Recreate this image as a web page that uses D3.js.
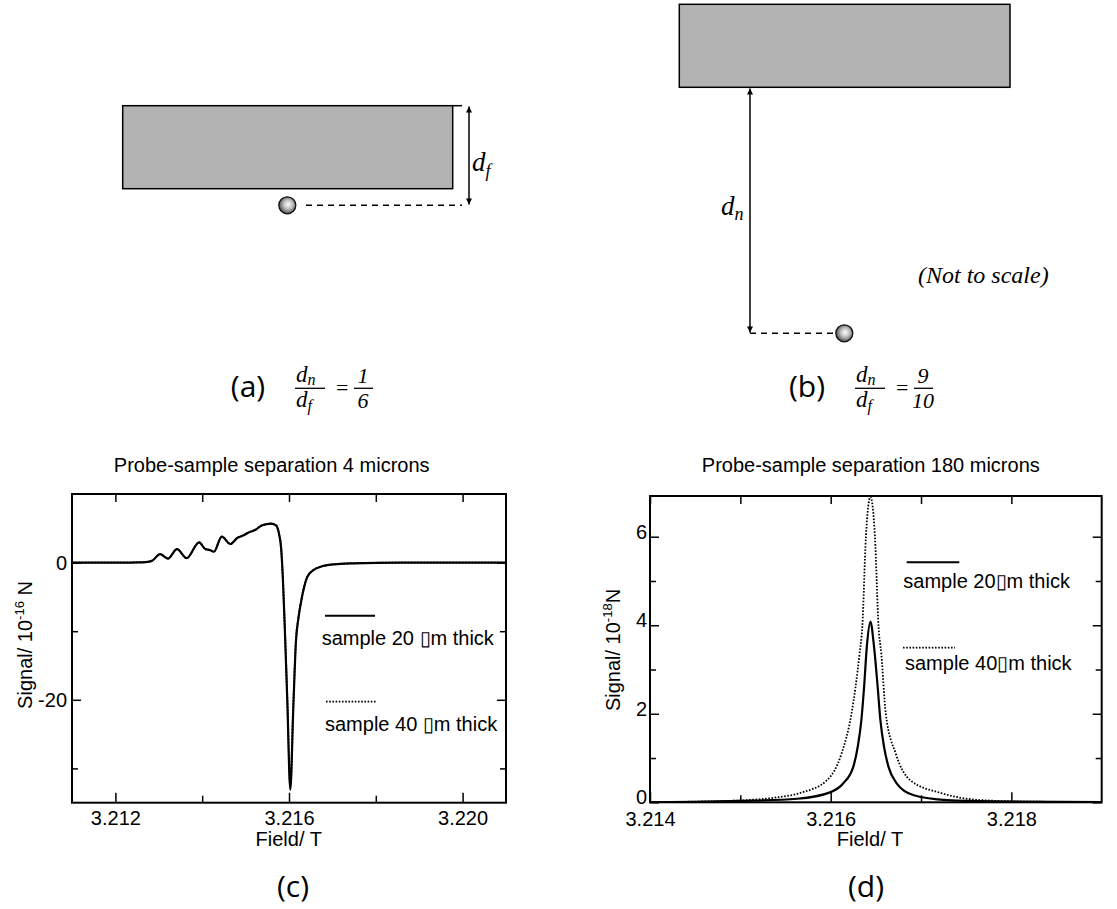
<!DOCTYPE html>
<html>
<head>
<meta charset="utf-8">
<script src="https://cdn.jsdelivr.net/npm/d3@7"></script>
<style>
  html, body { margin: 0; padding: 0; background: #fff; }
  svg { display: block; }
  .sans { font-family: "Liberation Sans", Arial, Helvetica, sans-serif; }
  .serif { font-family: "Liberation Serif", "Times New Roman", serif; font-style: italic; }
  .lbl { font-family: "Open Sans", "DejaVu Sans", sans-serif; }
</style>
</head>
<body>
<svg id="fig" width="1117" height="909"></svg>
<script>
// ---------------- DATA ----------------
// Panel (c): probe-sample separation 4 microns (signal in 1e-16 N)
const fieldC = [3.2110, 3.2120, 3.2125, 3.2127, 3.21284, 3.21303, 3.21321, 3.21342, 3.21364, 3.21393,
                3.21407, 3.21418, 3.21427, 3.21445, 3.21465, 3.21481, 3.21494, 3.21508, 3.21523, 3.21537,
                3.21559, 3.21570, 3.21577, 3.21582, 3.21586, 3.21590, 3.21596, 3.21603, 3.21610, 3.21616,
                3.21622, 3.21630, 3.21642, 3.21656, 3.21673, 3.21704, 3.21750, 3.21800, 3.21900, 3.22100];
const signalC20 = [0, 0, 0.02, 0.08, 0.25, 1.23, 0.59, 1.97, 0.64, 2.96,
                   1.97, 1.82, 1.58, 3.79, 2.71, 3.60, 3.94, 4.43, 4.78, 5.42,
                   5.67, 5.42, 4.19, 2.0, -2.5, -9.0, -20.0, -33.1, -21.0, -11.5,
                   -8.0, -5.0, -2.1, -1.1, -0.6, -0.25, -0.1, -0.03, 0, 0];
const signalC40 = [0, 0, 0.02, 0.08, 0.25, 1.23, 0.59, 1.97, 0.64, 2.96,
                   1.97, 1.82, 1.58, 3.79, 2.71, 3.60, 3.94, 4.43, 4.78, 5.42,
                   5.67, 5.43, 4.22, 2.05, -2.4, -8.8, -19.5, -32.5, -20.6, -11.3,
                   -7.9, -4.9, -2.1, -1.1, -0.6, -0.25, -0.1, -0.03, 0, 0];

// Panel (d): probe-sample separation 180 microns (signal in 1e-18 N)
const fieldD20 = [3.2140, 3.2145, 3.2150, 3.21563, 3.2160, 3.21614, 3.21625, 3.21630, 3.21634, 3.21637,
                  3.21640, 3.21644, 3.21648, 3.21652, 3.21655, 3.21659, 3.21664, 3.21673, 3.21692, 3.21729,
                  3.2178, 3.2190];
const signalD20 = [0.005, 0.01, 0.03, 0.08, 0.23, 0.43, 0.80, 1.26, 1.86, 2.61,
                   3.51, 4.08, 3.51, 2.61, 1.86, 1.26, 0.80, 0.43, 0.16, 0.05,
                   0.02, 0.005];
const fieldD40 = [3.2140, 3.2145, 3.21507, 3.2154, 3.21566, 3.21596, 3.21612, 3.21623, 3.21632, 3.21635,
                  3.21639, 3.21644, 3.21649, 3.21653, 3.21656, 3.21661, 3.21672, 3.21688, 3.21722, 3.21766,
                  3.2182, 3.2190];
const signalD40 = [0.005, 0.015, 0.05, 0.11, 0.21, 0.5, 1.1, 2.0, 3.36, 3.96,
                   6.0, 6.90, 6.0, 3.96, 3.36, 2.0, 1.1, 0.5, 0.21, 0.05,
                   0.015, 0.005];

// Tick values
const ticksCxMajor = [3.212, 3.216, 3.220];
const ticksCxMinor = [3.214, 3.218];
const ticksCyMajor = [0, -20];
const ticksCyMinor = [-10, -30];
const ticksDxMajor = [3.214, 3.216, 3.218];
const ticksDxMinor = [3.215, 3.217];
const ticksDyMajor = [0, 2, 4, 6];
const ticksDyMinor = [1, 3, 5];

// Text
const titleC = "Probe-sample separation 4 microns";
const titleD = "Probe-sample separation 180 microns";
const legendC = ["sample 20 \u25AFm thick", "sample 40 \u25AFm thick"];
const legendD = ["sample 20\u25AFm thick", "sample 40\u25AFm thick"];

// ---------------- DRAW ----------------
const svg = d3.select("#fig");
const defs = svg.append("defs");

const grad = defs.append("radialGradient").attr("id", "ball")
  .attr("cx", "55%").attr("cy", "45%").attr("r", "60%");
grad.append("stop").attr("offset", "0%").attr("stop-color", "#ffffff");
grad.append("stop").attr("offset", "45%").attr("stop-color", "#bdbdbd");
grad.append("stop").attr("offset", "100%").attr("stop-color", "#3a3a3a");

defs.append("marker").attr("id", "arr")
  .attr("viewBox", "0 0 10 10").attr("refX", 10).attr("refY", 5)
  .attr("markerWidth", 8).attr("markerHeight", 6).attr("markerUnits", "userSpaceOnUse")
  .attr("orient", "auto-start-reverse")
  .append("path").attr("d", "M0,0 L10,5 L0,10 z").attr("fill", "#000");

// ---------- Diagram (a) ----------
{
  const g = svg.append("g");
  g.append("rect").attr("x", 122.7).attr("y", 105.7).attr("width", 330).attr("height", 83)
    .attr("fill", "#b3b3b3").attr("stroke", "#000").attr("stroke-width", 1.5);
  g.append("line").attr("x1", 452).attr("x2", 462).attr("y1", 105.7).attr("y2", 105.7)
    .attr("stroke", "#000").attr("stroke-width", 1.5);
  g.append("line").attr("x1", 469).attr("x2", 469).attr("y1", 106.5).attr("y2", 204.5)
    .attr("stroke", "#000").attr("stroke-width", 1.5)
    .attr("marker-start", "url(#arr)").attr("marker-end", "url(#arr)");
  g.append("line").attr("x1", 306).attr("x2", 462).attr("y1", 205.3).attr("y2", 205.3)
    .attr("stroke", "#000").attr("stroke-width", 1.5).attr("stroke-dasharray", "6,5");
  g.append("circle").attr("cx", 287.3).attr("cy", 205.3).attr("r", 8.5)
    .attr("fill", "url(#ball)").attr("stroke", "#111").attr("stroke-width", 1.3);
  const t = g.append("text").attr("class", "serif").attr("x", 472).attr("y", 171).attr("font-size", 27);
  t.append("tspan").text("d");
  t.append("tspan").attr("font-size", 18).attr("dy", 6).text("f");
}

// ---------- Diagram (b) ----------
{
  const g = svg.append("g");
  g.append("rect").attr("x", 679.3).attr("y", 4.3).attr("width", 330.7).attr("height", 83)
    .attr("fill", "#b3b3b3").attr("stroke", "#000").attr("stroke-width", 1.5);
  g.append("line").attr("x1", 750).attr("x2", 750).attr("y1", 88.5).attr("y2", 332.5)
    .attr("stroke", "#000").attr("stroke-width", 1.5)
    .attr("marker-start", "url(#arr)").attr("marker-end", "url(#arr)");
  g.append("line").attr("x1", 750).attr("x2", 836).attr("y1", 333.3).attr("y2", 333.3)
    .attr("stroke", "#000").attr("stroke-width", 1.5).attr("stroke-dasharray", "6,5");
  g.append("circle").attr("cx", 844.3).attr("cy", 333.3).attr("r", 8.5)
    .attr("fill", "url(#ball)").attr("stroke", "#111").attr("stroke-width", 1.3);
  const t = g.append("text").attr("class", "serif").attr("x", 721).attr("y", 215).attr("font-size", 27);
  t.append("tspan").text("d");
  t.append("tspan").attr("font-size", 18).attr("dy", 5).text("n");
  g.append("text").attr("class", "serif").attr("x", 918).attr("y", 283).attr("font-size", 24)
    .text("(Not to scale)");
}

// ---------- Labels (a),(b) with formulas ----------
function formula(cx, label, x0, num, den) {
  const g = svg.append("g");
  g.append("text").attr("class", "lbl").attr("x", cx).attr("y", 397).attr("font-size", 30)
    .attr("text-anchor", "middle").text(label);
  const n = g.append("text").attr("class", "serif").attr("x", x0 + 1).attr("y", 382).attr("font-size", 23);
  n.append("tspan").text("d");
  n.append("tspan").attr("font-size", 16).attr("dy", 3).text("n");
  g.append("line").attr("x1", x0).attr("x2", x0 + 30).attr("y1", 388.3).attr("y2", 388.3)
    .attr("stroke", "#000").attr("stroke-width", 1.3);
  const d = g.append("text").attr("class", "serif").attr("x", x0 + 1).attr("y", 407).attr("font-size", 23);
  d.append("tspan").text("d");
  d.append("tspan").attr("font-size", 16).attr("dy", 4).text("f");
  g.append("text").attr("x", x0 + 41).attr("y", 395).attr("font-size", 22)
    .attr("font-family", "Liberation Serif, serif").text("=");
  const fx = x0 + 68;
  g.append("line").attr("x1", fx - 9).attr("x2", fx + 10).attr("y1", 388.3).attr("y2", 388.3)
    .attr("stroke", "#000").attr("stroke-width", 1.3);
  g.append("text").attr("class", "serif").attr("x", fx).attr("y", 383).attr("font-size", 22)
    .attr("text-anchor", "middle").text(num);
  g.append("text").attr("class", "serif").attr("x", fx).attr("y", 408).attr("font-size", 22)
    .attr("text-anchor", "middle").text(den);
}
formula(248, "(a)", 295, "1", "6");
formula(807, "(b)", 855, "9", "10");

// ---------- Charts ----------
function chart(opt) {
  const x = d3.scaleLinear().domain(opt.xDomain).range([opt.left, opt.right]);
  const y = d3.scaleLinear().domain(opt.yDomain).range([opt.bottom, opt.top]);
  const g = svg.append("g").attr("class", "sans");

  const clipId = "clip" + opt.id;
  defs.append("clipPath").attr("id", clipId).append("rect")
    .attr("x", opt.left).attr("y", opt.top - 2)
    .attr("width", opt.right - opt.left).attr("height", opt.bottom - opt.top + 2);

  function ax(axisFn, scale, vals, size, fmt, transform, pad) {
    const a = axisFn(scale).tickValues(vals).tickSize(-size).tickPadding(pad || 6)
      .tickFormat(fmt ? fmt : "");
    const gg = g.append("g").attr("transform", transform).call(a);
    gg.select(".domain").remove();
    gg.selectAll(".tick line").attr("stroke", "#000").attr("stroke-width", 1.5);
    gg.selectAll(".tick text").attr("font-size", 20).attr("fill", "#000")
      .attr("font-family", "Liberation Sans, Arial, sans-serif");
    return gg;
  }
  const fx = d3.format(".3f");
  ax(d3.axisBottom, x, opt.xMajor, 10, fx, `translate(0,${opt.bottom})`, opt.xPad);
  ax(d3.axisBottom, x, opt.xMinor, 7, null, `translate(0,${opt.bottom})`);
  ax(d3.axisTop, x, opt.xMajor.concat(opt.xMinor), 8, null, `translate(0,${opt.top})`);
  const yl0 = ax(d3.axisLeft, y, opt.yMajor, 9, d3.format("d"), `translate(${opt.left},0)`, opt.yPad);
  yl0.selectAll(".tick text").attr("dy", opt.yDy);
  ax(d3.axisLeft, y, opt.yMinor, 6, null, `translate(${opt.left},0)`);
  ax(d3.axisRight, y, opt.yMajor, 9, null, `translate(${opt.right},0)`);
  ax(d3.axisRight, y, opt.yMinor, 6, null, `translate(${opt.right},0)`);
  g.selectAll("text").each(function () {
    const s = d3.select(this); const t = s.text();
    if (t.startsWith("\u2212")) s.text("-" + t.slice(1));
  });

  const line = d3.line().x(d => x(d[0])).y(d => y(d[1])).curve(d3.curveMonotoneX);
  opt.series.forEach(s => {
    const pts = s.x.map((v, i) => [v, s.y[i]]);
    g.append("path").attr("d", line(pts)).attr("fill", "none")
      .attr("clip-path", `url(#${clipId})`)
      .attr("stroke", "#000").attr("stroke-width", s.dotted ? 1.8 : 2.2)
      .attr("stroke-dasharray", s.dotted ? "1.6,1.6" : null);
  });

  g.append("rect").attr("x", opt.left).attr("y", opt.top)
    .attr("width", opt.right - opt.left).attr("height", opt.bottom - opt.top)
    .attr("fill", "none").attr("stroke", "#000").attr("stroke-width", 2);

  g.append("text").attr("x", opt.titleX).attr("y", 471.7).attr("text-anchor", "middle")
    .attr("font-size", 20).text(opt.title);
  g.append("text").attr("x", opt.xLabelX).attr("y", 846).attr("text-anchor", "middle")
    .attr("font-size", 20).text("Field/ T");
  const yl = g.append("text").attr("transform", `translate(${opt.yLabelX},${opt.yLabelY}) rotate(-90)`)
    .attr("text-anchor", "middle").attr("font-size", 20);
  yl.append("tspan").text("Signal/ 10");
  yl.append("tspan").attr("font-size", 13).attr("dy", -8).text(opt.exp);
  yl.append("tspan").attr("dy", 8).text(opt.unit);

  opt.legend.forEach(l => {
    g.append("line").attr("x1", l.x1).attr("x2", l.x2).attr("y1", l.ly).attr("y2", l.ly)
      .attr("stroke", "#000").attr("stroke-width", l.dotted ? 1.8 : 2)
      .attr("stroke-dasharray", l.dotted ? "1.6,1.6" : null);
    g.append("text").attr("x", l.tx).attr("y", l.ty).attr("font-size", 20).text(l.text);
  });

  svg.append("text").attr("class", "lbl").attr("x", opt.panelX).attr("y", 897)
    .attr("font-size", 30).attr("text-anchor", "middle").text(opt.panel);
}

chart({
  id: "c", left: 72, right: 506, top: 494, bottom: 802.7,
  xDomain: [3.211, 3.221], yDomain: [-35, 10],
  xMajor: ticksCxMajor, xMinor: ticksCxMinor, yMajor: ticksCyMajor, yMinor: ticksCyMinor,
  xPad: 8, yPad: 5, yDy: "0.32em",
  series: [
    { x: fieldC, y: signalC40, dotted: true },
    { x: fieldC, y: signalC20, dotted: false }
  ],
  title: titleC, titleX: 271.7, xLabelX: 288.7,
  yLabelX: 32, yLabelY: 645, exp: "-16", unit: " N",
  legend: [
    { x1: 325, x2: 375, ly: 615.7, tx: 321.7, ty: 645, text: legendC[0] },
    { x1: 326, x2: 376, ly: 701.7, tx: 325, ty: 731, text: legendC[1], dotted: true }
  ],
  panel: "(c)", panelX: 293
});

chart({
  id: "d", left: 650, right: 1101.7, top: 496, bottom: 802.3,
  xDomain: [3.214, 3.219], yDomain: [0, 6.92],
  xMajor: ticksDxMajor, xMinor: ticksDxMinor, yMajor: ticksDyMajor, yMinor: ticksDyMinor,
  xPad: 10, yPad: 3, yDy: "0.08em",
  series: [
    { x: fieldD40, y: signalD40, dotted: true },
    { x: fieldD20, y: signalD20, dotted: false }
  ],
  title: titleD, titleX: 870.8, xLabelX: 870,
  yLabelX: 620, yLabelY: 650, exp: "-18", unit: "N",
  legend: [
    { x1: 906.7, x2: 959.3, ly: 562.3, tx: 903.3, ty: 588, text: legendD[0] },
    { x1: 903, x2: 955, ly: 647.7, tx: 905, ty: 670, text: legendD[1], dotted: true }
  ],
  panel: "(d)", panelX: 866
});
</script>
</body>
</html>
